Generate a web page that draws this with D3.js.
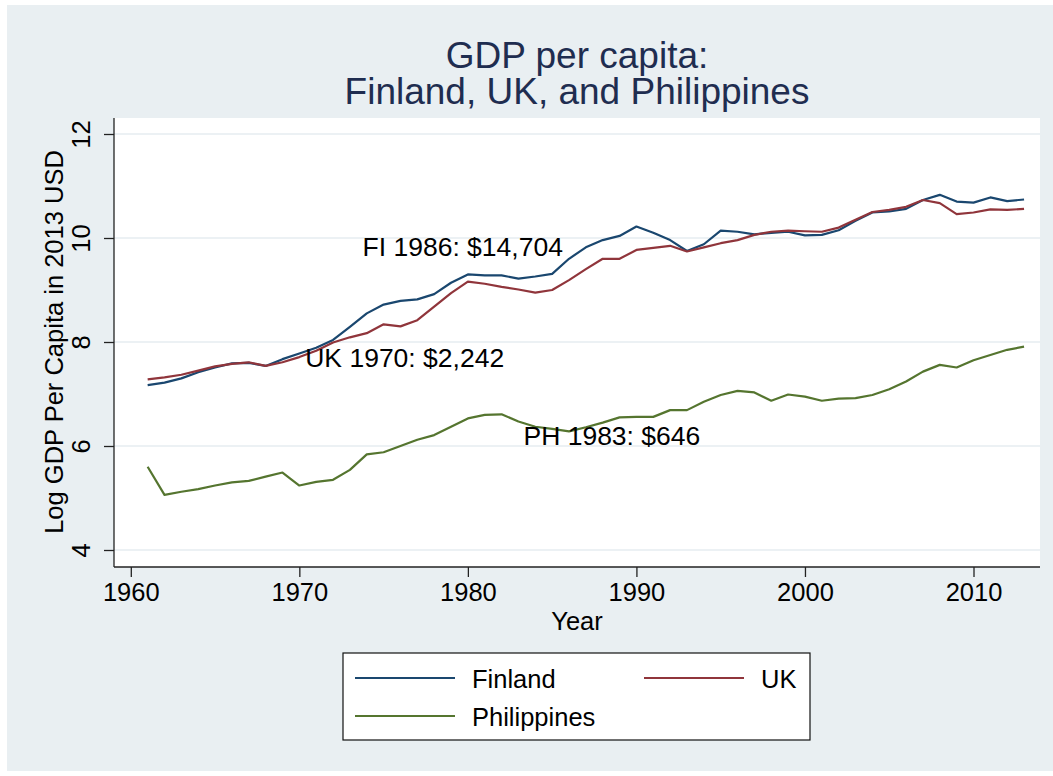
<!DOCTYPE html>
<html>
<head>
<meta charset="utf-8">
<script src="https://cdn.jsdelivr.net/npm/d3@7"></script>
<style>
  body { margin: 0; background: #ffffff; }
  text { font-family: "Liberation Sans", Arial, Helvetica, sans-serif; }
</style>
</head>
<body>
<script>
// Données (log du PIB par habitant, USD 2013)
const years = d3.range(1961, 2014)

const finland = [7.17, 7.22, 7.30, 7.42, 7.51, 7.59, 7.60, 7.54, 7.67, 7.78,
        7.89, 8.04, 8.29, 8.55, 8.72, 8.79, 8.82, 8.92, 9.14, 9.30,
        9.28, 9.28, 9.22, 9.26, 9.31, 9.60, 9.82, 9.96, 10.04, 10.22,
        10.10, 9.96, 9.75, 9.88, 10.14, 10.12, 10.07, 10.10, 10.12, 10.05,
        10.06, 10.15, 10.33, 10.49, 10.51, 10.56, 10.73, 10.83, 10.70, 10.68,
        10.78, 10.71, 10.74]

const uk = [7.28, 7.32, 7.37, 7.45, 7.53, 7.58, 7.61, 7.54, 7.61, 7.71,
        7.83, 7.99, 8.09, 8.17, 8.34, 8.30, 8.42, 8.68, 8.94, 9.16,
        9.12, 9.06, 9.01, 8.95, 9.00, 9.19, 9.40, 9.60, 9.60, 9.77,
        9.81, 9.85, 9.74, 9.82, 9.90, 9.96, 10.06, 10.12, 10.14, 10.13,
        10.12, 10.20, 10.35, 10.50, 10.54, 10.60, 10.73, 10.67, 10.46, 10.49,
        10.55, 10.54, 10.56]

const philippines = [5.60, 5.06, 5.12, 5.17, 5.24, 5.30, 5.33, 5.41, 5.49, 5.24,
        5.31, 5.35, 5.54, 5.84, 5.88, 6.00, 6.12, 6.21, 6.37, 6.53,
        6.60, 6.61, 6.47, 6.37, 6.33, 6.28, 6.36, 6.45, 6.55, 6.56,
        6.56, 6.69, 6.69, 6.85, 6.98, 7.06, 7.03, 6.87, 6.99, 6.95,
        6.87, 6.91, 6.92, 6.98, 7.09, 7.24, 7.43, 7.56, 7.51, 7.65,
        7.75, 7.85, 7.91]

const seriesNames = ["Finland", "UK", "Philippines"]
const xTicks = [1960, 1970, 1980, 1990, 2000, 2010]
const yTicks = [4, 6, 8, 10, 12]

// Annotations : texte, année (début du texte), valeur (milieu du texte)
const labelTexts = ["FI 1986: $14,704", "UK 1970: $2,242", "PH 1983: $646"]
const labelYears = [1973.75, 1970.35, 1983.3]
const labelValues = [9.83, 7.71, 6.2]

const colors = ["#1a476f", "#90353b", "#55752f"]
const allSeries = [finland, uk, philippines]


//Création du canva SVG
var svg = d3.select("body")
        .append("svg")
        .attr("width", 1053)
        .attr("height", 776)

// fond gris de la figure
svg.append("rect")
        .attr("x", 7)
        .attr("y", 5)
        .attr("width", 1046)
        .attr("height", 766)
        .attr("fill", "#e9eff2")

// zone du graphique (blanche)
const plotLeft = 114, plotRight = 1040, plotTop = 118, plotBottom = 567

svg.append("rect")
        .attr("x", plotLeft)
        .attr("y", plotTop)
        .attr("width", plotRight - plotLeft)
        .attr("height", plotBottom - plotTop)
        .attr("fill", "#ffffff")

// échelles
const x = d3.scaleLinear()
        .domain([1960, 2010])
        .range([130.8, 973.5])

const y = d3.scaleLinear()
        .domain([4, 12])
        .range([550, 134])

// lignes de grille
svg.append("g")
        .selectAll("line")
        .data(yTicks)
        .enter()
        .append("line")
                .attr("x1", plotLeft)
                .attr("x2", plotRight)
                .attr("y1", d => y(d))
                .attr("y2", d => y(d))
                .attr("stroke", "#e6edf1")
                .attr("stroke-width", 1.6)

// axe Y
const yAxis = svg.append("g")
        .attr("transform", `translate(${plotLeft},0)`)
        .call(d3.axisLeft(y).tickValues(yTicks).tickSize(10).tickPadding(0).tickFormat(d3.format("d")))

yAxis.select(".domain").remove()
yAxis.append("line")
        .attr("x1", 0).attr("x2", 0)
        .attr("y1", plotTop).attr("y2", plotBottom)
        .attr("stroke", "#222").attr("stroke-width", 1.3)
yAxis.selectAll(".tick line").attr("stroke", "#222").attr("stroke-width", 1.3)
yAxis.selectAll(".tick text")
        .attr("x", 0)
        .attr("y", 0)
        .attr("transform", "translate(-24,0) rotate(-90)")
        .attr("text-anchor", "middle")
        .attr("dy", 0)
        .attr("fill", "#000")
        .style("font-size", "25.5px")

// axe X
const xAxis = svg.append("g")
        .attr("transform", `translate(0,${plotBottom})`)
        .call(d3.axisBottom(x).tickValues(xTicks).tickSize(10).tickPadding(0).tickFormat(d3.format("d")))

xAxis.select(".domain").remove()
xAxis.append("line")
        .attr("x1", plotLeft).attr("x2", plotRight)
        .attr("y1", 0).attr("y2", 0)
        .attr("stroke", "#222").attr("stroke-width", 1.3)
xAxis.selectAll(".tick line").attr("stroke", "#222").attr("stroke-width", 1.3)
xAxis.selectAll(".tick text")
        .attr("y", 34)
        .attr("dy", 0)
        .attr("fill", "#000")
        .style("font-size", "25.5px")

// titres des axes
svg.append("text")
        .attr("x", (plotLeft + plotRight) / 2)
        .attr("y", 630)
        .attr("text-anchor", "middle")
        .style("font-size", "25.5px")
        .text("Year")

svg.append("text")
        .attr("transform", "translate(63,342) rotate(-90)")
        .attr("text-anchor", "middle")
        .style("font-size", "25.5px")
        .text("Log GDP Per Capita in 2013 USD")

// titre
const title = svg.append("text")
        .attr("text-anchor", "middle")
        .attr("fill", "#1f2d50")
        .style("font-size", "37px")

title.append("tspan")
        .attr("x", (plotLeft + plotRight) / 2)
        .attr("y", 68)
        .text("GDP per capita:")

title.append("tspan")
        .attr("x", (plotLeft + plotRight) / 2)
        .attr("y", 104)
        .text("Finland, UK, and Philippines")

// courbes
const line = d3.line()
        .x((d, i) => x(years[i]))
        .y(d => y(d))

svg.append("g")
        .selectAll("path")
        .data(allSeries)
        .enter()
        .append("path")
                .attr("d", d => line(d))
                .attr("fill", "none")
                .attr("stroke", (d, i) => colors[i])
                .attr("stroke-width", 2.2)
                .attr("stroke-linejoin", "round")

// annotations
svg.append("g")
        .selectAll("text")
        .data(labelTexts)
        .enter()
        .append("text")
                .attr("x", (d, i) => x(labelYears[i]))
                .attr("y", (d, i) => y(labelValues[i]))
                .attr("dy", "0.36em")
                .style("font-size", "26.5px")
                .text(d => d)

// légende
const legend = svg.append("g")

legend.append("rect")
        .attr("x", 343)
        .attr("y", 653)
        .attr("width", 467)
        .attr("height", 87)
        .attr("fill", "#ffffff")
        .attr("stroke", "#111")
        .attr("stroke-width", 1.2)

const legendPos = [[355, 678], [644, 678], [355, 716]]

legend.selectAll("line")
        .data(seriesNames)
        .enter()
        .append("line")
                .attr("x1", (d, i) => legendPos[i][0])
                .attr("x2", (d, i) => legendPos[i][0] + 100)
                .attr("y1", (d, i) => legendPos[i][1])
                .attr("y2", (d, i) => legendPos[i][1])
                .attr("stroke", (d, i) => colors[i])
                .attr("stroke-width", 2.2)

legend.selectAll("text")
        .data(seriesNames)
        .enter()
        .append("text")
                .attr("x", (d, i) => legendPos[i][0] + 117)
                .attr("y", (d, i) => legendPos[i][1] + 10)
                .style("font-size", "25.5px")
                .text(d => d)
</script>
</body>
</html>
